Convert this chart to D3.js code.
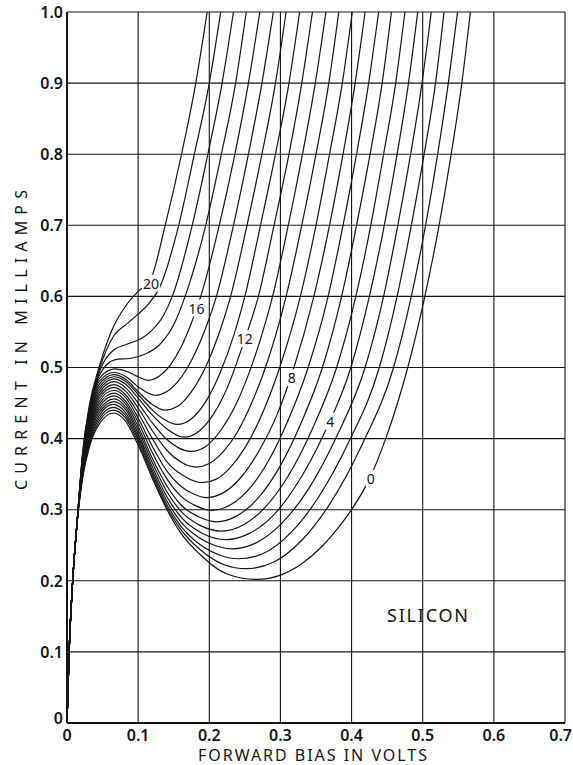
<!DOCTYPE html>
<html>
<head>
<meta charset="utf-8">
<script src="https://cdn.jsdelivr.net/npm/d3@7"></script>
<style>
  html, body { margin: 0; padding: 0; background: #fff; }
  svg { display: block; }
</style>
</head>
<body>
<svg id="chart" width="573" height="765"></svg>
<script>
// Tunnel diode forward characteristics (silicon).
// Each curve: [forward bias V, current mA]
const c0 = [[0,0],[0.003,0.1],[0.008,0.2],[0.014,0.28],[0.022,0.345],[0.032,0.39],[0.045,0.42],[0.065,0.436],[0.082,0.425],[0.1,0.391],[0.12,0.344],[0.14,0.301],[0.16,0.267],[0.187,0.237],[0.224,0.21],[0.267,0.202],[0.3,0.208],[0.33,0.224],[0.36,0.25],[0.38,0.273],[0.4,0.3],[0.425,0.343],[0.448,0.4],[0.479,0.5],[0.503,0.6],[0.523,0.7],[0.54,0.8],[0.555,0.9],[0.567,1]];
const c1 = [[0,0],[0.003,0.1],[0.008,0.2],[0.014,0.28],[0.022,0.347],[0.032,0.393],[0.045,0.424],[0.065,0.44],[0.082,0.429],[0.1,0.395],[0.12,0.347],[0.14,0.304],[0.16,0.272],[0.187,0.244],[0.22,0.223],[0.252,0.217],[0.29,0.226],[0.33,0.257],[0.37,0.309],[0.415,0.392],[0.459,0.5],[0.484,0.6],[0.504,0.7],[0.521,0.8],[0.536,0.9],[0.549,1]];
const c2 = [[0,0],[0.003,0.1],[0.008,0.2],[0.014,0.28],[0.022,0.349],[0.032,0.396],[0.045,0.428],[0.065,0.444],[0.082,0.433],[0.1,0.399],[0.12,0.351],[0.14,0.308],[0.16,0.277],[0.187,0.251],[0.215,0.236],[0.242,0.231],[0.275,0.238],[0.315,0.268],[0.355,0.32],[0.395,0.393],[0.439,0.5],[0.464,0.6],[0.484,0.7],[0.502,0.8],[0.518,0.9],[0.53,1]];
const c3 = [[0,0],[0.003,0.1],[0.008,0.2],[0.014,0.28],[0.022,0.35],[0.032,0.399],[0.045,0.432],[0.065,0.448],[0.082,0.437],[0.1,0.403],[0.12,0.355],[0.14,0.313],[0.16,0.283],[0.187,0.26],[0.21,0.249],[0.232,0.245],[0.265,0.253],[0.3,0.279],[0.34,0.33],[0.38,0.405],[0.419,0.5],[0.445,0.6],[0.465,0.7],[0.483,0.8],[0.499,0.9],[0.512,1]];
const c4 = [[0,0],[0.003,0.1],[0.008,0.2],[0.014,0.28],[0.022,0.352],[0.032,0.402],[0.045,0.436],[0.066,0.452],[0.083,0.44],[0.1,0.407],[0.12,0.36],[0.14,0.319],[0.16,0.29],[0.19,0.267],[0.224,0.258],[0.255,0.266],[0.29,0.292],[0.325,0.339],[0.36,0.404],[0.399,0.5],[0.425,0.6],[0.446,0.7],[0.464,0.8],[0.48,0.9],[0.493,1]];
const c5 = [[0,0],[0.003,0.1],[0.008,0.2],[0.014,0.28],[0.022,0.354],[0.032,0.405],[0.045,0.44],[0.066,0.456],[0.083,0.444],[0.1,0.412],[0.12,0.366],[0.14,0.326],[0.16,0.298],[0.187,0.278],[0.217,0.27],[0.25,0.28],[0.28,0.305],[0.31,0.346],[0.345,0.414],[0.379,0.5],[0.406,0.6],[0.427,0.7],[0.445,0.8],[0.462,0.9],[0.475,1]];
const c6 = [[0,0],[0.003,0.1],[0.008,0.2],[0.014,0.28],[0.022,0.356],[0.032,0.408],[0.045,0.444],[0.066,0.46],[0.083,0.448],[0.1,0.417],[0.12,0.372],[0.14,0.334],[0.16,0.307],[0.185,0.29],[0.21,0.283],[0.24,0.292],[0.27,0.318],[0.3,0.362],[0.33,0.424],[0.359,0.5],[0.386,0.6],[0.407,0.7],[0.426,0.8],[0.443,0.9],[0.456,1]];
const c7 = [[0,0],[0.003,0.1],[0.008,0.2],[0.014,0.28],[0.022,0.358],[0.032,0.411],[0.045,0.448],[0.066,0.464],[0.083,0.452],[0.1,0.423],[0.12,0.38],[0.14,0.344],[0.16,0.319],[0.182,0.305],[0.203,0.299],[0.23,0.307],[0.26,0.334],[0.285,0.372],[0.31,0.424],[0.339,0.5],[0.367,0.6],[0.388,0.7],[0.407,0.8],[0.424,0.9],[0.438,1]];
const c8 = [[0,0],[0.003,0.1],[0.008,0.2],[0.014,0.28],[0.022,0.359],[0.032,0.414],[0.045,0.452],[0.066,0.468],[0.083,0.457],[0.1,0.429],[0.12,0.389],[0.14,0.355],[0.16,0.333],[0.178,0.322],[0.196,0.317],[0.22,0.324],[0.245,0.346],[0.27,0.383],[0.295,0.433],[0.319,0.5],[0.347,0.6],[0.369,0.7],[0.388,0.8],[0.405,0.9],[0.419,1]];
const c9 = [[0,0],[0.003,0.1],[0.008,0.2],[0.014,0.28],[0.022,0.361],[0.032,0.417],[0.045,0.456],[0.066,0.472],[0.083,0.461],[0.1,0.436],[0.12,0.4],[0.14,0.368],[0.165,0.347],[0.19,0.338],[0.21,0.343],[0.23,0.36],[0.25,0.387],[0.27,0.425],[0.299,0.5],[0.328,0.6],[0.35,0.7],[0.369,0.8],[0.387,0.9],[0.401,1]];
const c10 = [[0,0],[0.003,0.1],[0.008,0.2],[0.014,0.28],[0.022,0.363],[0.032,0.42],[0.045,0.46],[0.066,0.476],[0.083,0.466],[0.1,0.443],[0.12,0.411],[0.14,0.384],[0.16,0.367],[0.182,0.36],[0.2,0.365],[0.22,0.382],[0.24,0.41],[0.26,0.451],[0.279,0.5],[0.308,0.6],[0.33,0.7],[0.35,0.8],[0.368,0.9],[0.382,1]];
const c11 = [[0,0],[0.003,0.1],[0.008,0.2],[0.014,0.28],[0.022,0.365],[0.032,0.423],[0.045,0.464],[0.066,0.48],[0.083,0.471],[0.1,0.45],[0.12,0.422],[0.14,0.399],[0.155,0.388],[0.174,0.382],[0.195,0.389],[0.215,0.41],[0.235,0.443],[0.255,0.49],[0.272,0.54],[0.289,0.6],[0.311,0.7],[0.331,0.8],[0.349,0.9],[0.364,1]];
const c12 = [[0,0],[0.003,0.1],[0.008,0.2],[0.014,0.28],[0.022,0.367],[0.032,0.426],[0.045,0.468],[0.066,0.484],[0.083,0.476],[0.1,0.457],[0.12,0.433],[0.14,0.414],[0.165,0.402],[0.185,0.41],[0.205,0.433],[0.225,0.471],[0.25,0.54],[0.269,0.6],[0.291,0.7],[0.312,0.8],[0.33,0.9],[0.345,1]];
const c13 = [[0,0],[0.003,0.1],[0.008,0.2],[0.014,0.28],[0.022,0.368],[0.032,0.429],[0.045,0.472],[0.066,0.487],[0.083,0.48],[0.1,0.462],[0.12,0.44],[0.135,0.428],[0.155,0.42],[0.175,0.428],[0.195,0.452],[0.215,0.492],[0.235,0.547],[0.25,0.6],[0.272,0.7],[0.293,0.8],[0.312,0.9],[0.327,1]];
const c14 = [[0,0],[0.003,0.1],[0.008,0.2],[0.014,0.28],[0.022,0.37],[0.032,0.432],[0.045,0.476],[0.066,0.49],[0.083,0.483],[0.1,0.466],[0.12,0.448],[0.138,0.44],[0.155,0.445],[0.175,0.466],[0.195,0.501],[0.213,0.546],[0.23,0.6],[0.253,0.7],[0.274,0.8],[0.293,0.9],[0.308,1]];
const c15 = [[0,0],[0.003,0.1],[0.008,0.2],[0.014,0.28],[0.022,0.372],[0.032,0.435],[0.045,0.48],[0.066,0.493],[0.083,0.487],[0.1,0.473],[0.124,0.461],[0.14,0.466],[0.158,0.483],[0.176,0.512],[0.194,0.553],[0.21,0.6],[0.234,0.7],[0.255,0.8],[0.274,0.9],[0.29,1]];
const c16 = [[0,0],[0.003,0.1],[0.008,0.2],[0.014,0.28],[0.022,0.374],[0.032,0.438],[0.045,0.484],[0.067,0.498],[0.085,0.494],[0.1,0.487],[0.114,0.482],[0.13,0.488],[0.145,0.503],[0.16,0.528],[0.175,0.563],[0.188,0.6],[0.214,0.7],[0.236,0.8],[0.255,0.9],[0.271,1]];
const c17 = [[0,0],[0.003,0.1],[0.008,0.2],[0.014,0.28],[0.022,0.376],[0.032,0.441],[0.045,0.488],[0.068,0.511],[0.09,0.513],[0.11,0.519],[0.13,0.532],[0.15,0.56],[0.166,0.6],[0.195,0.7],[0.217,0.8],[0.237,0.9],[0.252,1]];
const c18 = [[0,0],[0.003,0.1],[0.008,0.2],[0.014,0.28],[0.022,0.377],[0.032,0.444],[0.045,0.492],[0.066,0.525],[0.085,0.533],[0.105,0.541],[0.12,0.553],[0.135,0.572],[0.148,0.6],[0.176,0.7],[0.198,0.8],[0.218,0.9],[0.234,1]];
const c19 = [[0,0],[0.003,0.1],[0.008,0.2],[0.014,0.28],[0.022,0.379],[0.032,0.447],[0.045,0.496],[0.066,0.545],[0.085,0.562],[0.1,0.575],[0.115,0.59],[0.13,0.612],[0.157,0.7],[0.179,0.8],[0.2,0.9],[0.216,1]];
const c20 = [[0,0],[0.003,0.1],[0.008,0.2],[0.014,0.28],[0.022,0.381],[0.032,0.45],[0.045,0.5],[0.062,0.55],[0.085,0.59],[0.1,0.607],[0.118,0.625],[0.138,0.7],[0.161,0.8],[0.181,0.9],[0.197,1]];

const curveSet = [c0, c1, c2, c3, c4, c5, c6, c7, c8, c9, c10, c11, c12, c13, c14, c15, c16, c17, c18, c19, c20];

// inline labels written on every 4th curve
const labelText = ['20', '16', '12', '8', '4', '0'];
const labelV = [0.118, 0.182, 0.250, 0.316, 0.370, 0.427];
const labelI = [0.618, 0.583, 0.540, 0.485, 0.424, 0.343];

const xTicks = [0, 0.1, 0.2, 0.3, 0.4, 0.5, 0.6, 0.7];
const xTickLabels = ['0', '0.1', '0.2', '0.3', '0.4', '0.5', '0.6', '0.7'];
const yTicks = [0, 0.1, 0.2, 0.3, 0.4, 0.5, 0.6, 0.7, 0.8, 0.9, 1.0];
const yTickLabels = ['0', '0.1', '0.2', '0.3', '0.4', '0.5', '0.6', '0.7', '0.8', '0.9', '1.0'];

const xTitle = 'FORWARD BIAS IN VOLTS';
const yTitle = 'CURRENT IN MILLIAMPS';
const materialNote = 'SILICON';

const svg = d3.select('#chart');
const margin = { top: 12, right: 8, bottom: 42, left: 67 };
const W = 573, H = 765;

const x = d3.scaleLinear().domain([0, 0.7]).range([margin.left, W - margin.right]);
const y = d3.scaleLinear().domain([0, 1]).range([H - margin.bottom, margin.top]);

const ink = '#161616';
const font = "'Noto Sans', 'DejaVu Sans', sans-serif";

// grid
const grid = svg.append('g').attr('class', 'grid');
grid.selectAll('.vline')
    .data(xTicks)
    .enter()
    .append('line')
    .attr('x1', d => x(d))
    .attr('x2', d => x(d))
    .attr('y1', y(0))
    .attr('y2', y(1))
    .attr('stroke', ink)
    .attr('stroke-width', d => d === 0 ? 2 : 1.1);

grid.selectAll('.hline')
    .data(yTicks)
    .enter()
    .append('line')
    .attr('x1', x(0))
    .attr('x2', x(0.7))
    .attr('y1', d => y(d))
    .attr('y2', d => y(d))
    .attr('stroke', ink)
    .attr('stroke-width', d => d === 0 ? 2 : 1.1);

// curves
svg.append('clipPath').attr('id', 'plotClip')
    .append('rect')
    .attr('x', x(0)).attr('y', y(1))
    .attr('width', x(0.7) - x(0)).attr('height', y(0) - y(1));

const line = d3.line()
    .x(d => x(d[0]))
    .y(d => y(d[1]))
    .curve(d3.curveMonotoneX);

svg.append('g')
    .attr('clip-path', 'url(#plotClip)')
    .selectAll('path')
    .data(curveSet)
    .enter()
    .append('path')
    .attr('d', line)
    .attr('fill', 'none')
    .attr('stroke', ink)
    .attr('stroke-width', 1.2);

// curve labels with a white patch so the line breaks under them
const labels = svg.append('g').attr('class', 'curve-labels');
labelText.forEach((t, i) => {
    const g = labels.append('g');
    const txt = g.append('text')
        .attr('x', x(labelV[i]))
        .attr('y', y(labelI[i]))
        .attr('text-anchor', 'middle')
        .attr('dy', '0.36em')
        .attr('font-family', font)
        .attr('font-size', '14px')
        .attr('fill', ink)
        .text(t);
    const bb = txt.node().getBBox();
    g.insert('rect', 'text')
        .attr('x', bb.x - 1)
        .attr('y', bb.y + 1)
        .attr('width', bb.width + 2)
        .attr('height', bb.height - 2)
        .attr('fill', '#fff');
});

// tick labels
svg.append('g')
    .selectAll('text')
    .data(yTicks)
    .enter()
    .append('text')
    .attr('x', x(0) - 4)
    .attr('y', d => d === 0 ? y(d) - 5 : y(d))
    .attr('dy', '0.36em')
    .attr('text-anchor', 'end')
    .attr('font-family', font)
    .attr('font-weight', '600')
    .attr('font-size', '16px')
    .attr('fill', ink)
    .text((d, i) => yTickLabels[i]);

// last label sits against the right edge of the page
svg.append('g')
    .selectAll('text')
    .data(xTicks)
    .enter()
    .append('text')
    .attr('x', d => d === 0.7 ? W - 1 : x(d))
    .attr('y', y(0) + 18)
    .attr('text-anchor', d => d === 0.7 ? 'end' : 'middle')
    .attr('font-family', font)
    .attr('font-weight', '600')
    .attr('font-size', '16px')
    .attr('fill', ink)
    .text((d, i) => xTickLabels[i]);

// titles
svg.append('text')
    .attr('x', 198)
    .attr('y', 761)
    .attr('font-family', font)
    .attr('font-size', '16px')
    .attr('fill', ink)
    .attr('textLength', 229)
    .attr('lengthAdjust', 'spacing')
    .text(xTitle);

svg.append('text')
    .attr('transform', 'translate(27, 490) rotate(-90)')
    .attr('font-family', font)
    .attr('font-size', '16px')
    .attr('fill', ink)
    .attr('textLength', 300)
    .attr('lengthAdjust', 'spacing')
    .text(yTitle);

svg.append('text')
    .attr('x', 387)
    .attr('y', 622)
    .attr('font-family', font)
    .attr('font-size', '18px')
    .attr('fill', ink)
    .attr('textLength', 81)
    .attr('lengthAdjust', 'spacing')
    .text(materialNote);
</script>
</body>
</html>
